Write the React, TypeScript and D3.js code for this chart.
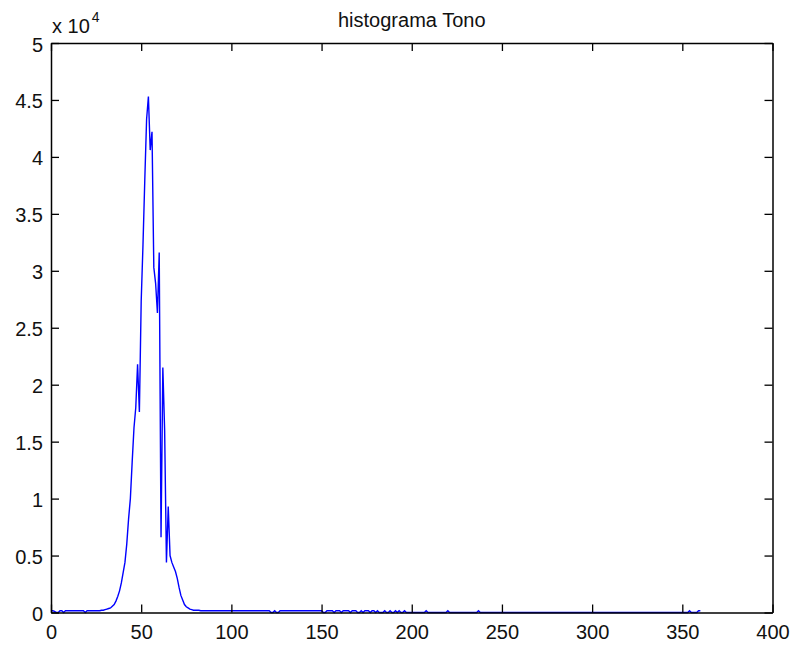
import React, { useRef, useEffect } from 'react';
import * as d3 from 'd3';

// pixel counts per hue bin (index = hue, 0..360)
const counts = [
  // 0-9
  150, 150, 100, 0, 0, 150, 150, 0, 150, 150,
  // 10-19
  150, 150, 150, 150, 150, 150, 150, 150, 150, 0,
  // 20-29
  150, 150, 150, 150, 150, 150, 150, 150, 200, 200,
  // 30-39
  250, 300, 350, 400, 550, 700, 1000, 1400, 1900, 2600,
  // 40-49
  3500, 4400, 6000, 8200, 10000, 13200, 16200, 18000, 21800, 17600,
  // 50-59
  27300, 32300, 38000, 43300, 45300, 40600, 42200, 30300, 28900, 26300,
  // 60-69
  31600, 6600, 21500, 16000, 4400, 9300, 5000, 4400, 4000, 3600,
  // 70-79
  3000, 2200, 1500, 1100, 700, 500, 400, 300, 250, 200,
  // 80-89
  200, 200, 200, 150, 150, 150, 150, 150, 150, 150,
  // 90-99
  150, 150, 150, 150, 150, 150, 150, 150, 150, 150,
  // 100-109
  150, 150, 150, 150, 150, 150, 150, 150, 150, 150,
  // 110-119
  150, 150, 150, 150, 150, 150, 150, 150, 150, 150,
  // 120-129
  150, 150, 0, 0, 150, 0, 0, 150, 150, 150,
  // 130-139
  150, 150, 150, 150, 150, 150, 150, 150, 150, 150,
  // 140-149
  150, 150, 150, 150, 150, 150, 150, 150, 150, 150,
  // 150-159
  150, 0, 0, 150, 150, 150, 150, 0, 150, 150,
  // 160-169
  150, 0, 150, 150, 150, 150, 0, 150, 150, 150,
  // 170-179
  0, 0, 150, 0, 150, 150, 150, 0, 150, 150,
  // 180-189
  0, 150, 0, 0, 0, 150, 0, 0, 150, 0,
  // 190-199
  0, 150, 0, 150, 0, 0, 150, 0, 0, 0,
  // 200-209
  0, 0, 0, 0, 0, 0, 0, 0, 150, 0,
  // 210-219
  0, 0, 0, 0, 0, 0, 0, 0, 0, 0,
  // 220-229
  150, 0, 0, 0, 0, 0, 0, 0, 0, 0,
  // 230-239
  0, 0, 0, 0, 0, 0, 0, 150, 0, 0,
  // 240-249
  0, 0, 0, 0, 0, 0, 0, 0, 0, 0,
  // 250-259
  0, 0, 0, 0, 0, 0, 0, 0, 0, 0,
  // 260-269
  0, 0, 0, 0, 0, 0, 0, 0, 0, 0,
  // 270-279
  0, 0, 0, 0, 0, 0, 0, 0, 0, 0,
  // 280-289
  0, 0, 0, 0, 0, 0, 0, 0, 0, 0,
  // 290-299
  0, 0, 0, 0, 0, 0, 0, 0, 0, 0,
  // 300-309
  0, 0, 0, 0, 0, 0, 0, 0, 0, 0,
  // 310-319
  0, 0, 0, 0, 0, 0, 0, 0, 0, 0,
  // 320-329
  0, 0, 0, 0, 0, 0, 0, 0, 0, 0,
  // 330-339
  0, 0, 0, 0, 0, 0, 0, 0, 0, 0,
  // 340-349
  0, 0, 0, 0, 0, 0, 0, 0, 0, 0,
  // 350-359
  0, 0, 0, 0, 150, 0, 0, 0, 0, 150,
  // 360
  150
];

const xTicks = [0, 50, 100, 150, 200, 250, 300, 350, 400];
const yTicks = [0, 5000, 10000, 15000, 20000, 25000, 30000, 35000, 40000, 45000, 50000];
const title = 'histograma Tono';

export default function App() {
  const svgRef = useRef<SVGSVGElement>(null);

  useEffect(() => {
    const margin = { top: 43, right: 21.5, bottom: 32.5, left: 51 },
      width = 794 - margin.left - margin.right,
      height = 645 - margin.top - margin.bottom;
    const font = '"Liberation Sans", Arial, Helvetica, sans-serif';

    const root = d3.select(svgRef.current);
    root.selectAll('*').remove();

    const svg = root
      .append('g')
      .attr('transform', 'translate(' + margin.left + ',' + margin.top + ')');

    const x = d3.scaleLinear().domain([0, 400]).range([0, width]);
    const y = d3.scaleLinear().domain([0, 50000]).range([height, 0]);

    // histogram line
    const line = d3
      .line<number>()
      .x((d, i) => x(i))
      .y(d => y(d));

    svg
      .append('path')
      .datum(counts)
      .attr('d', line)
      .attr('fill', 'none')
      .attr('stroke', '#0000ff')
      .attr('stroke-width', 1.4);

    // axes (ticks point inward, box on all four sides)
    const styleAxis = (g: any) => {
      g.select('.domain').attr('stroke', '#000').attr('stroke-width', 1.5);
      g.selectAll('.tick line').attr('stroke', '#000').attr('stroke-width', 1.3);
      g.selectAll('.tick text')
        .attr('fill', '#111')
        .attr('font-size', '20px')
        .attr('font-family', font);
    };

    svg
      .append('g')
      .attr('transform', 'translate(0,' + height + ')')
      .call(
        d3.axisBottom(x).tickValues(xTicks).tickSizeInner(-8).tickSizeOuter(0).tickPadding(12)
      )
      .call(styleAxis);

    svg
      .append('g')
      .call(
        d3.axisTop(x).tickValues(xTicks).tickSizeInner(-8).tickSizeOuter(0).tickFormat(() => '')
      )
      .call(styleAxis);

    svg
      .append('g')
      .call(
        d3
          .axisLeft(y)
          .tickValues(yTicks)
          .tickSizeInner(-8)
          .tickSizeOuter(0)
          .tickPadding(8)
          .tickFormat(d => d3.format('')(+d / 10000))
      )
      .call(styleAxis)
      .selectAll('.tick text')
      .attr('dy', '0.4em');

    svg
      .append('g')
      .attr('transform', 'translate(' + width + ',0)')
      .call(
        d3.axisRight(y).tickValues(yTicks).tickSizeInner(-8).tickSizeOuter(0).tickFormat(() => '')
      )
      .call(styleAxis);

    svg.selectAll('.domain').attr('fill', 'none');

    // exponent label
    const expo = root
      .append('text')
      .attr('x', 52)
      .attr('y', 33)
      .attr('font-family', font)
      .attr('font-size', '20px')
      .attr('fill', '#111');
    expo.append('tspan').text('x 10');
    expo
      .append('tspan')
      .attr('font-size', '14px')
      .attr('dx', 2)
      .attr('dy', -11)
      .text('4');

    // title
    root
      .append('text')
      .attr('x', margin.left + width / 2)
      .attr('y', 27)
      .attr('text-anchor', 'middle')
      .attr('font-family', font)
      .attr('font-size', '20px')
      .attr('fill', '#111')
      .text(title);
  }, []);

  return (
    <div style={{ position: 'fixed', left: 0, top: 0, background: '#fff' }}>
      <svg ref={svgRef} width={794} height={645} style={{ display: 'block' }} />
    </div>
  );
}
